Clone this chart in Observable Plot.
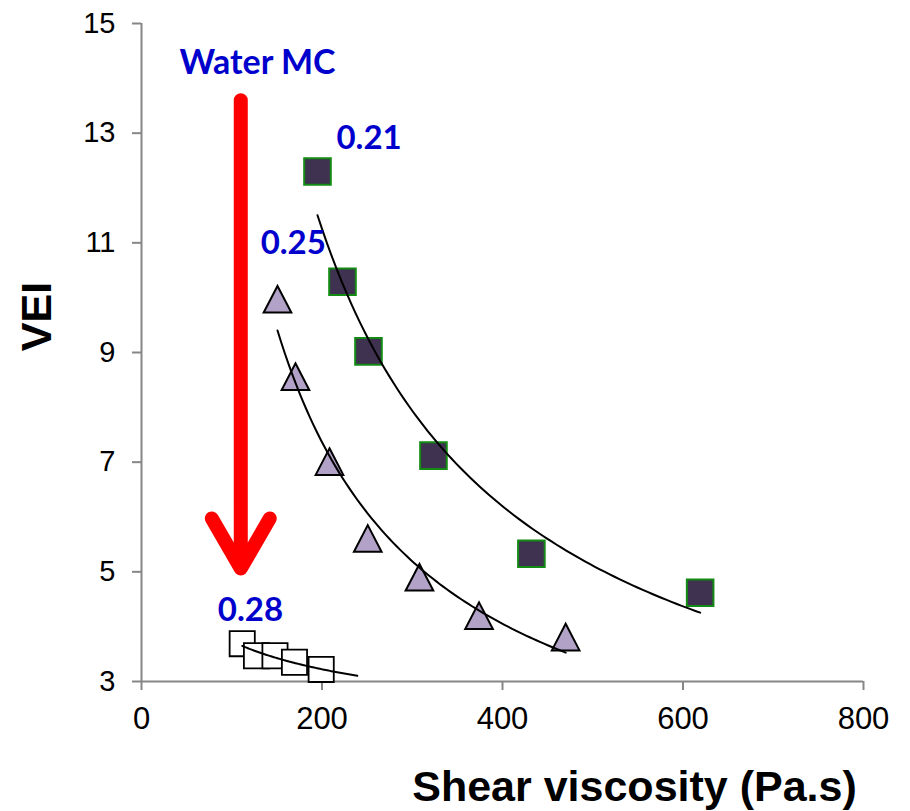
<!DOCTYPE html>
<html>
<head>
<meta charset="utf-8">
<script src="https://cdn.jsdelivr.net/npm/d3@7"></script>
<script src="https://cdn.jsdelivr.net/npm/@observablehq/plot@0.6"></script>
<style>
  html, body { margin: 0; padding: 0; background: #fff; }
  svg { display: block; }
</style>
</head>
<body>
<div id="chart"></div>
<script>
// ---- Data ----
// Water MC = 0.21 (dark filled squares)
const visc021 = [195, 222.7, 251.5, 323.5, 432, 619];
const vei021  = [12.30, 10.29, 9.02, 7.12, 5.33, 4.62];
// Water MC = 0.25 (lavender triangles)
const visc025 = [150.7, 170.6, 208.3, 250.7, 308, 374, 470];
const vei025  = [9.97, 8.56, 7.01, 5.61, 4.90, 4.20, 3.81];
// Water MC = 0.28 (open squares)
const visc028 = [111.6, 127.4, 147.9, 169.5, 199.1];
const vei028  = [3.69, 3.47, 3.47, 3.35, 3.22];

// Trendline forward forecast (Pa.s) per series: 0.21, 0.25, 0.28
const trendForward = [0, 0, 40];

// Tick values
const xTicks = [0, 200, 400, 600, 800];
const yTicks = [3, 5, 7, 9, 11, 13, 15];

// Annotations
const mcLabels = ["0.21", "0.25", "0.28"];
const mcLabelX = [216, 132, 84.5];
const mcLabelY = [12.72, 10.79, 4.10];
const arrowTitle = ["Water MC"];
const arrowTitleX = [42];
const arrowTitleY = [14.07];
const arrowX = [110];
const arrowY1 = [13.6];
const arrowY2 = [5.06];

const xTitle = "Shear viscosity (Pa.s)";
const yTitle = "VEI";

// ---- Power-law trendline (least squares in log-log, like a spreadsheet power trendline) ----
function powerTrend(xs, ys, forward) {
  const lx = xs.map(Math.log), ly = ys.map(Math.log);
  const mx = d3.mean(lx), my = d3.mean(ly);
  const b = d3.sum(lx, (v, i) => (v - mx) * (ly[i] - my)) / d3.sum(lx, v => (v - mx) ** 2);
  const a = Math.exp(my - b * mx);
  const x0 = d3.min(xs), x1 = d3.max(xs) + forward;
  const n = 80;
  return d3.range(n + 1).map(i => {
    const x = x0 + (x1 - x0) * i / n;
    return {x, y: a * Math.pow(x, b)};
  });
}
const trend021 = powerTrend(visc021, vei021, trendForward[0]);
const trend025 = powerTrend(visc025, vei025, trendForward[1]);
const trend028 = powerTrend(visc028, vei028, trendForward[2]);

// Custom triangle symbol centered on its bounding box
const triangleUp = {
  draw(ctx, size) {
    const s = Math.sqrt(size);
    const w = s * 1.04, h = s * 1.0;
    ctx.moveTo(0, -h / 2);
    ctx.lineTo(w / 2, h / 2);
    ctx.lineTo(-w / 2, h / 2);
    ctx.closePath();
  }
};

const axisGray = "#868686";
const blue = "#0000CC";

const chart = Plot.plot({
  width: 910,
  height: 811,
  marginLeft: 141,
  marginRight: 47,
  marginTop: 23,
  marginBottom: 130,
  style: {fontFamily: "'Liberation Sans', Arial, sans-serif", background: "#fff", color: "#000"},
  x: {domain: [0, 800]},
  y: {domain: [3, 15]},
  marks: [
    Plot.ruleX([0], {stroke: axisGray, strokeWidth: 2}),
    Plot.ruleY([3], {stroke: axisGray, strokeWidth: 2}),
    Plot.axisY({ticks: yTicks, tickSize: 9, tickPadding: 17, fontSize: 29, stroke: axisGray, strokeWidth: 2, label: null, tickFormat: d => d}),
    Plot.axisX({ticks: xTicks, tickSize: 9, tickPadding: 16, fontSize: 31, stroke: axisGray, strokeWidth: 2, label: null, tickFormat: d => d}),
    // Red arrow
    Plot.arrow(arrowX, {x1: arrowX, x2: arrowX, y1: arrowY1, y2: arrowY2, stroke: "#FF0000", strokeWidth: 14, headLength: 6.2, headAngle: 60, strokeLinejoin: "miter", strokeLinecap: "round"}),
    // Markers
    Plot.dot(vei021, {x: visc021, y: vei021, symbol: "square", r: 15, fill: "#3F3150", stroke: "#138A13", strokeWidth: 2}),
    Plot.dot(vei025, {x: visc025, y: vei025, symbol: triangleUp, r: 15, fill: "#B3A2C7", stroke: "#000", strokeWidth: 2}),
    Plot.dot(vei028, {x: visc028, y: vei028, symbol: "square", r: 14.2, fill: "#fff", stroke: "#000", strokeWidth: 1.8}),
    // Trendlines
    Plot.line(trend021, {x: "x", y: "y", stroke: "#000", strokeWidth: 2}),
    Plot.line(trend025, {x: "x", y: "y", stroke: "#000", strokeWidth: 2}),
    Plot.line(trend028, {x: "x", y: "y", stroke: "#000", strokeWidth: 2}),
    // Annotations
    Plot.text(mcLabels, {x: mcLabelX, y: mcLabelY, textAnchor: "start", lineAnchor: "bottom", fill: blue, fontSize: 33, fontWeight: "bold", fontFamily: "Lato"}),
    Plot.text(arrowTitle, {x: arrowTitleX, y: arrowTitleY, textAnchor: "start", lineAnchor: "bottom", fill: blue, fontSize: 34, fontWeight: "bold", fontFamily: "Lato"}),
    // Axis titles
    Plot.text([xTitle], {frameAnchor: "bottom", textAnchor: "middle", lineAnchor: "middle", dx: 132, dy: 106, fontSize: 43, fontWeight: "bold", fill: "#000"}),
    Plot.text([yTitle], {frameAnchor: "left", textAnchor: "middle", lineAnchor: "middle", rotate: -90, dx: -104, dy: -36, fontSize: 43, fontWeight: "bold", fill: "#000"})
  ]
});
document.getElementById("chart").appendChild(chart);
</script>
</body>
</html>
